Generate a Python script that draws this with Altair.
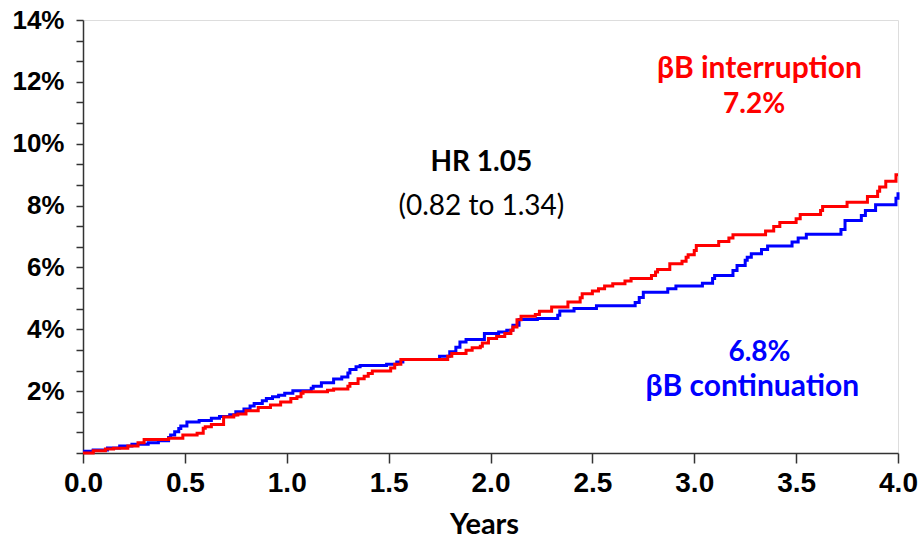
import altair as alt
import pandas as pd

# Cumulative incidence (%) by follow-up time (years), step functions
blue_t = [0.00, 0.05, 0.12, 0.18, 0.24, 0.32, 0.37, 0.42, 0.43, 0.45, 0.47, 0.48,
          0.51, 0.57, 0.63, 0.67, 0.72, 0.75, 0.79, 0.82, 0.84, 0.88, 0.90, 0.93,
          0.96, 0.99, 1.03, 1.12, 1.13, 1.17, 1.23, 1.27, 1.30, 1.31, 1.34, 1.36,
          1.49, 1.54, 1.57, 1.75, 1.80, 1.83, 1.85, 1.88, 1.97, 2.04, 2.08, 2.11,
          2.14, 2.23, 2.33, 2.34, 2.41, 2.52, 2.71, 2.73, 2.75, 2.87, 2.91, 3.04,
          3.09, 3.10, 3.19, 3.21, 3.25, 3.26, 3.28, 3.33, 3.36, 3.48, 3.51, 3.55,
          3.72, 3.74, 3.82, 3.84, 3.89, 3.99, 4.00]
blue_p = [0.06, 0.10, 0.16, 0.23, 0.28, 0.33, 0.40, 0.50, 0.58, 0.69, 0.79, 0.87,
          1.00, 1.05, 1.12, 1.18, 1.24, 1.33, 1.42, 1.52, 1.60, 1.69, 1.76, 1.82,
          1.87, 1.93, 2.01, 2.09, 2.16, 2.27, 2.39, 2.46, 2.59, 2.70, 2.79, 2.83,
          2.87, 2.94, 3.02, 3.13, 3.27, 3.42, 3.59, 3.67, 3.86, 3.91, 3.97, 4.13,
          4.32, 4.35, 4.45, 4.59, 4.67, 4.76, 4.87, 5.03, 5.20, 5.31, 5.40, 5.49,
          5.64, 5.74, 5.90, 6.06, 6.23, 6.33, 6.44, 6.58, 6.69, 6.82, 6.95, 7.07,
          7.23, 7.52, 7.68, 7.84, 8.03, 8.24, 8.43]

red_t = [0.00, 0.05, 0.11, 0.15, 0.22, 0.27, 0.30, 0.42, 0.49, 0.56, 0.59, 0.60,
         0.63, 0.69, 0.74, 0.76, 0.80, 0.86, 0.92, 0.97, 1.02, 1.05, 1.07, 1.08,
         1.20, 1.23, 1.30, 1.31, 1.35, 1.38, 1.40, 1.42, 1.51, 1.53, 1.56, 1.79,
         1.81, 1.88, 1.91, 1.95, 1.96, 1.99, 2.03, 2.07, 2.10, 2.11, 2.13, 2.15,
         2.22, 2.24, 2.30, 2.38, 2.44, 2.45, 2.50, 2.53, 2.56, 2.60, 2.66, 2.69,
         2.79, 2.81, 2.82, 2.88, 2.94, 2.96, 2.97, 3.00, 3.01, 3.12, 3.17, 3.19,
         3.35, 3.39, 3.42, 3.50, 3.52, 3.62, 3.63, 3.75, 3.85, 3.90, 3.91, 3.94,
         3.99, 4.00]
red_p = [0.00, 0.07, 0.13, 0.15, 0.23, 0.33, 0.44, 0.48, 0.58, 0.64, 0.80, 0.85,
         0.92, 1.16, 1.23, 1.26, 1.37, 1.47, 1.55, 1.65, 1.76, 1.82, 1.93, 1.98,
         2.03, 2.07, 2.16, 2.25, 2.40, 2.48, 2.57, 2.65, 2.75, 2.87, 3.02, 3.13,
         3.22, 3.32, 3.40, 3.45, 3.56, 3.70, 3.77, 3.86, 3.97, 4.07, 4.31, 4.42,
         4.48, 4.58, 4.72, 4.88, 5.02, 5.15, 5.24, 5.31, 5.40, 5.47, 5.56, 5.64,
         5.74, 5.85, 5.93, 6.12, 6.20, 6.33, 6.41, 6.55, 6.71, 6.84, 6.95, 7.06,
         7.18, 7.32, 7.45, 7.57, 7.71, 7.84, 7.97, 8.11, 8.29, 8.46, 8.60, 8.79,
         9.00, 9.00]

x_ticks = [0.0, 0.5, 1.0, 1.5, 2.0, 2.5, 3.0, 3.5, 4.0]
y_ticks = [i * 2 / 3 for i in range(22)]

# Annotation texts with their anchor positions (years, %)
group_labels = ["βB interruption", "βB continuation"]
group_t = [3.32, 3.285]
group_p = [12.42, 2.13]
group_colors = ["#ff0000", "#0000ff"]

pct_labels = ["7.2%", "6.8%"]
pct_t = [3.294, 3.32]
pct_p = [11.26, 3.23]
pct_colors = ["#ff0000", "#0000ff"]

hr_label = ["HR 1.05"]
ci_label = ["(0.82 to 1.34)"]
hr_t = [1.955]
hr_p = [9.39]
ci_p = [7.94]

blue_df = pd.DataFrame({"t": blue_t, "p": blue_p})
red_df = pd.DataFrame({"t": red_t, "p": red_p})
group_df = pd.DataFrame({"label": group_labels, "t": group_t, "p": group_p, "c": group_colors})
pct_df = pd.DataFrame({"label": pct_labels, "t": pct_t, "p": pct_p, "c": pct_colors})
hr_df = pd.DataFrame({"label": hr_label, "t": hr_t, "p": hr_p})
ci_df = pd.DataFrame({"label": ci_label, "t": hr_t, "p": ci_p})

x_enc = alt.X(
    "t:Q",
    scale=alt.Scale(domain=[0, 4], nice=False, zero=False),
    axis=alt.Axis(
        values=x_ticks, format=".1f", title="Years", grid=False,
        labelFont="Liberation Sans", labelFontWeight="bold", labelFontSize=28,
        labelColor="#000000", labelPadding=6, labelFlush=False, labelOverlap=False,
        tickSize=10, tickWidth=1.5, tickColor="#333333",
        domainColor="#333333", domainWidth=1.5,
        titleFont="Lato", titleFontWeight="bold", titleFontSize=29,
        titleColor="#000000", titlePadding=13, titleX=401, titleAlign="center",
    ),
)
y_enc = alt.Y(
    "p:Q",
    scale=alt.Scale(domain=[0, 14], nice=False),
    axis=alt.Axis(
        values=y_ticks, title=None, grid=False,
        labelExpr="(abs(datum.value / 2 - round(datum.value / 2)) < 0.01 && datum.value > 0.5) ? round(datum.value) + '%' : ''",
        labelFont="Liberation Sans", labelFontWeight="bold", labelFontSize=26,
        labelColor="#000000", labelPadding=12, labelOverlap=False, labelFlush=False,
        labelBound=False,
        tickSize=7, tickWidth=1.5, tickColor="#333333",
        domainColor="#333333", domainWidth=1.5,
    ),
)

blue_line = alt.Chart(blue_df).mark_line(
    interpolate="step-after", color="#0000ff", strokeWidth=3
).encode(x=x_enc, y=y_enc)

red_line = alt.Chart(red_df).mark_line(
    interpolate="step-after", color="#ff0000", strokeWidth=3
).encode(x=x_enc, y=y_enc)

group_text = alt.Chart(group_df).mark_text(
    font="Lato", fontWeight="bold", fontSize=30, align="center", baseline="middle"
).encode(x=x_enc, y=y_enc, text="label:N", color=alt.Color("c:N", scale=None))

pct_text = alt.Chart(pct_df).mark_text(
    font="Lato", fontWeight="bold", fontSize=28, align="center", baseline="middle"
).encode(x=x_enc, y=y_enc, text="label:N", color=alt.Color("c:N", scale=None))

hr_text = alt.Chart(hr_df).mark_text(
    font="Lato", fontWeight="bold", fontSize=28, align="center", baseline="middle",
    color="#000000"
).encode(x=x_enc, y=y_enc, text="label:N")

ci_text = alt.Chart(ci_df).mark_text(
    font="Lato", fontSize=28, align="center", baseline="middle", color="#000000"
).encode(x=x_enc, y=y_enc, text="label:N")

chart = alt.layer(blue_line, red_line, group_text, pct_text, hr_text, ci_text).properties(
    width=815,
    height=433,
    autosize=alt.AutoSizeParams(type="none"),
    padding={"left": 83, "top": 20, "right": 21, "bottom": 87},
).configure_view(stroke=None).configure(background="#ffffff")

chart.save("out.html", embed_options={"renderer": "svg", "actions": False})
